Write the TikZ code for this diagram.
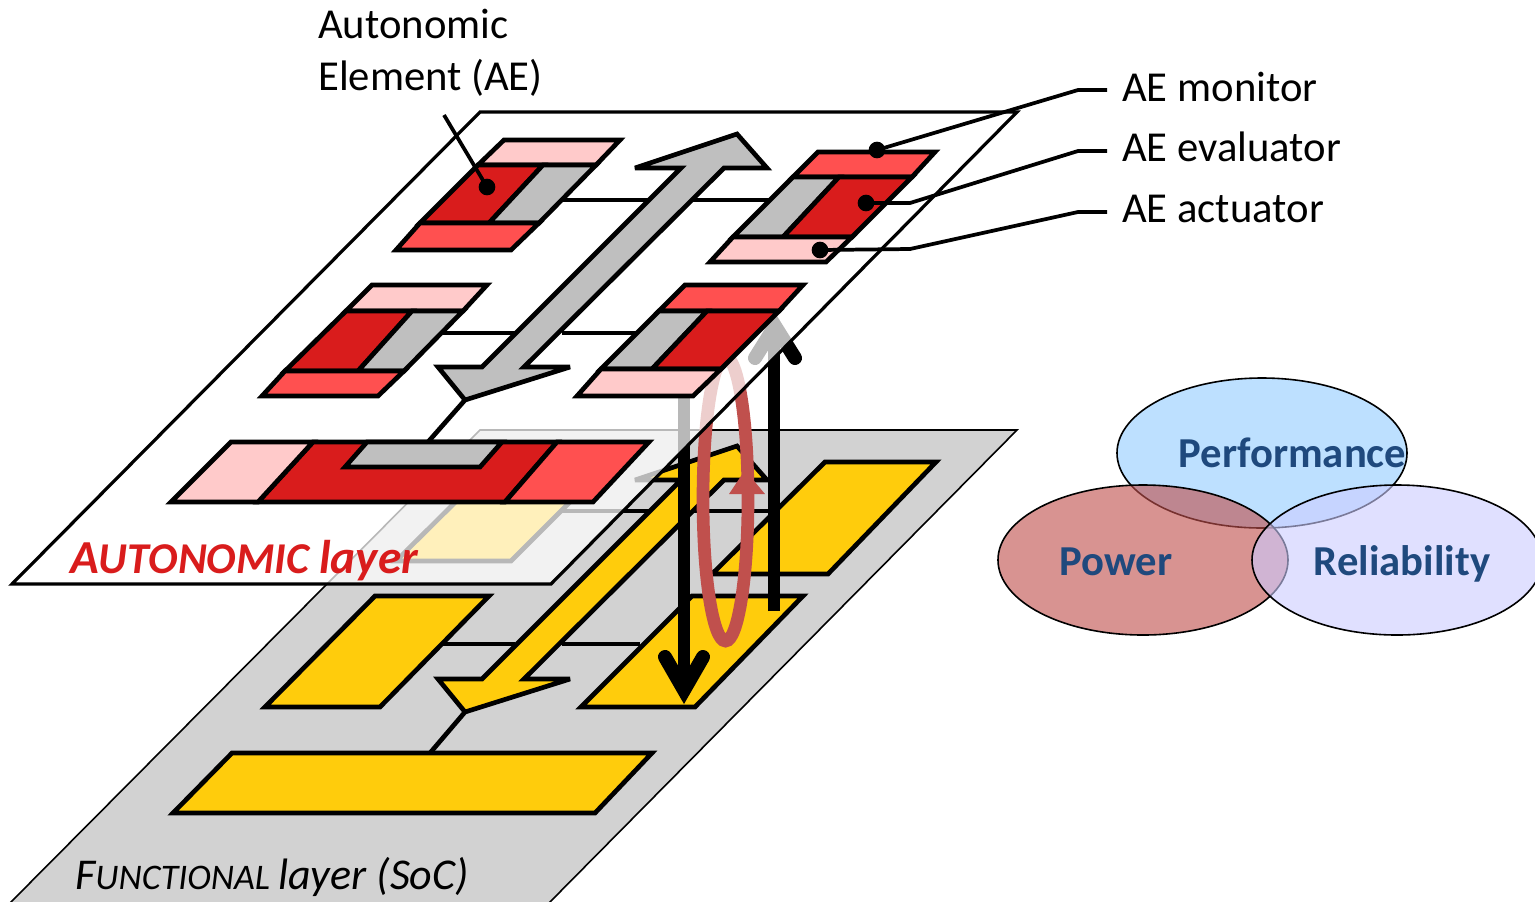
\documentclass[tikz,border=0pt]{standalone}
\usepackage{fontspec}
\setmainfont{Carlito}
\definecolor{aedark}{HTML}{D91C1C}
\definecolor{aemid}{HTML}{FF5050}
\definecolor{aelight}{HTML}{FFCACA}
\definecolor{aegray}{HTML}{BFBFBF}
\definecolor{socyel}{HTML}{FFCC0C}
\definecolor{socgray}{HTML}{D2D2D2}
\definecolor{loopred}{HTML}{C0504D}
\definecolor{navy}{HTML}{1F497D}
\definecolor{perfblue}{HTML}{BDE0FF}
\definecolor{rellav}{HTML}{CCCCFF}
\tikzset{
  part/.style={draw=black,line width=3.5pt,line join=miter,miter limit=6},
  wire/.style={draw=black,line width=3.5pt},
  thinwire/.style={draw=black,line width=2.8pt},
  plane/.style={draw=black,line width=2.4pt},
  dotnode/.style={circle,fill=black,inner sep=0pt,minimum size=12.5pt},
  lbl/.style={anchor=base west,inner sep=0pt,font=\fontsize{32}{38}\selectfont},
  venn/.style={draw=black,line width=1.2pt},
  vennlbl/.style={anchor=base,inner sep=0pt,text=navy,font=\fontsize{32}{38}\selectfont\bfseries},
  bigarrow/.style={line width=8.5pt,draw=black},
  bighead/.style={line width=10.5pt,draw=black,line cap=round,line join=miter,miter limit=8},
}
\begin{document}
\begin{tikzpicture}[x=0.75pt,y=-0.75pt]
\useasboundingbox (0,0) rectangle (1535,901);
\clip (0,0) rectangle (1535,901);
% FUNCTIONAL layer
\fill[socgray,draw=black,line width=1.2pt] (480,430)--(1017,430)--(547,905)--(8,905)--cycle;
\draw[wire] (556,511)--(650,511) (693,511)--(775,511);
\draw[wire] (440,644)--(515,644) (562,644)--(640,644);
\draw[wire] (465,712)--(430,753);
\filldraw[part,fill=socyel] (508,450)--(622,450)--(511,561)--(396,561)--cycle;
\filldraw[part,fill=socyel] (825,462)--(936,462)--(828,574)--(712,574)--cycle;
\filldraw[part,fill=socyel] (375,596)--(489,596)--(380,707)--(265,707)--cycle;
\filldraw[part,fill=socyel] (692,596)--(803,596)--(695,707)--(581,707)--cycle;
\filldraw[part,fill=socyel] (232,753)--(652,753)--(595,813)--(173,813)--cycle;
\filldraw[part,fill=socyel] (737,446)--(767,480)--(724,480)--(524,679)--(570,679)--(465,712)--(438,679)--(482,679)--(681,480)--(635,480)--cycle;
% feedback arrows and loop, seen through the upper plane
\coordinate (dnA) at (684,397); \coordinate (dnB) at (684,690);
\coordinate (upA) at (774,611); \coordinate (upB) at (774,322);
\draw[bigarrow] (dnA)--(dnB);
\draw[bighead] (665,657)--(684,690)--(703,657);
\draw[bigarrow] (upA)--(upB);
\draw[bighead] (755,358)--(775,326)--(795,358);
\draw[loopred,line width=9.5pt] (725.5,499) ellipse [x radius=22.5,y radius=142];
\fill[loopred] (745,470)--(765,494)--(729,494)--cycle;
% AUTONOMIC layer
\filldraw[plane,fill=white,fill opacity=.72] (480,112)--(1017,112)--(551,584)--(12,584)--cycle;
\draw[wire] (560,200)--(648,200) (693,200)--(772,200);
\draw[wire] (440,333)--(515,333) (562,333)--(637,333);
\draw[wire] (465,400)--(428,442);
\filldraw[part,fill=aegray] (737,134)--(767,168)--(724,168)--(524,367)--(570,367)--(465,400)--(438,367)--(482,367)--(681,168)--(635,168)--cycle;
% AE top left
\filldraw[part,fill=aelight] (504,140)--(620,140)--(596,165)--(478,165)--cycle;
\filldraw[part,fill=aedark] (478,165)--(543,165)--(489,223)--(420,223)--cycle;
\filldraw[part,fill=aegray] (543,165)--(596,165)--(539,223)--(489,223)--cycle;
\filldraw[part,fill=aemid] (420,223)--(539,223)--(511,250)--(396,250)--cycle;
% AE top right
\filldraw[part,fill=aemid] (818,152)--(935,152)--(912,177)--(793,177)--cycle;
\filldraw[part,fill=aegray] (793,177)--(839,177)--(783,237)--(733,237)--cycle;
\filldraw[part,fill=aedark] (839,177)--(912,177)--(852,237)--(783,237)--cycle;
\filldraw[part,fill=aelight] (733,237)--(852,237)--(826,262)--(710,262)--cycle;
% AE middle left
\filldraw[part,fill=aelight] (372,285)--(487,285)--(463,311)--(346,311)--cycle;
\filldraw[part,fill=aedark] (346,311)--(412,311)--(358,371)--(285,371)--cycle;
\filldraw[part,fill=aegray] (412,311)--(463,311)--(404,371)--(358,371)--cycle;
\filldraw[part,fill=aemid] (285,371)--(404,371)--(378,396)--(262,396)--cycle;
% AE middle right
\filldraw[part,fill=aemid] (685,285)--(803,285)--(779,311)--(659,311)--cycle;
\filldraw[part,fill=aegray] (659,311)--(707,311)--(652,369)--(601,369)--cycle;
\filldraw[part,fill=aedark] (707,311)--(779,311)--(721,369)--(652,369)--cycle;
\filldraw[part,fill=aelight] (601,369)--(721,369)--(693,396)--(577,396)--cycle;
% AE wide bar
\filldraw[part,fill=aedark] (313,442)--(557,442)--(505,502)--(258,502)--cycle;
\filldraw[part,fill=aelight] (231,442)--(313,442)--(258,502)--(171,502)--cycle;
\filldraw[part,fill=aemid] (557,442)--(649,442)--(593,502)--(505,502)--cycle;
\filldraw[part,fill=aegray] (367,442)--(502,442)--(480,467)--(345,467)--cycle;
% labels
\node[lbl] (ae1) at (318,38) {Autonomic};
\node[lbl] (ae2) at (318,90.5) {Element (AE)};
\coordinate (aeleader) at (444,115);
\node[dotnode] (aedot) at (487,187) {};
\draw[thinwire] (aeleader)--(aedot.center);
\node[dotnode] (mon) at (877,150) {};
\node[dotnode] (eva) at (866,203) {};
\node[dotnode] (act) at (820,250) {};
\node[lbl] (lmon) at (1122,101) {AE monitor};
\node[lbl] (leva) at (1122,161) {AE evaluator};
\node[lbl] (lact) at (1122,222) {AE actuator};
\coordinate (eb) at (910,203); \coordinate (ab) at (910,249);
\coordinate (mk) at (1078,90); \coordinate (ek) at (1078,151); \coordinate (ak) at (1078,212);
\draw[thinwire] (mon.center)--(mk)--(1107,90);
\draw[thinwire] (eva.center)--(eb)--(ek)--(1107,151);
\draw[thinwire] (act.center)--(ab)--(ak)--(1107,212);
\node[anchor=base west,inner sep=0pt,text=aedark,font=\bfseries\itshape] (autl) at (70,573) {\fontsize{35.5}{40}\selectfont A\fontsize{33}{40}\selectfont UTONOMIC \fontsize{35.5}{40}\selectfont layer};
\node[anchor=base west,inner sep=0pt,font=\itshape] (funl) at (75,889) {\fontsize{33}{40}\selectfont F\fontsize{27}{40}\selectfont UNCTIONAL \fontsize{33}{40}\selectfont layer (SoC)};
% Venn legend
\filldraw[venn,fill=perfblue] (1262,453) ellipse [x radius=145,y radius=75];
\filldraw[venn,fill=loopred,fill opacity=.62] (1143,560) ellipse [x radius=145,y radius=75];
\filldraw[venn,fill=rellav,fill opacity=.6] (1397,560) ellipse [x radius=145,y radius=75];
\node[vennlbl] (perf) at (1292.5,467.5) {Performance};
\node[vennlbl] (pow) at (1116,575) {Power};
\node[vennlbl] (rel) at (1402,575) {Reliability};
\end{tikzpicture}
\end{document}
